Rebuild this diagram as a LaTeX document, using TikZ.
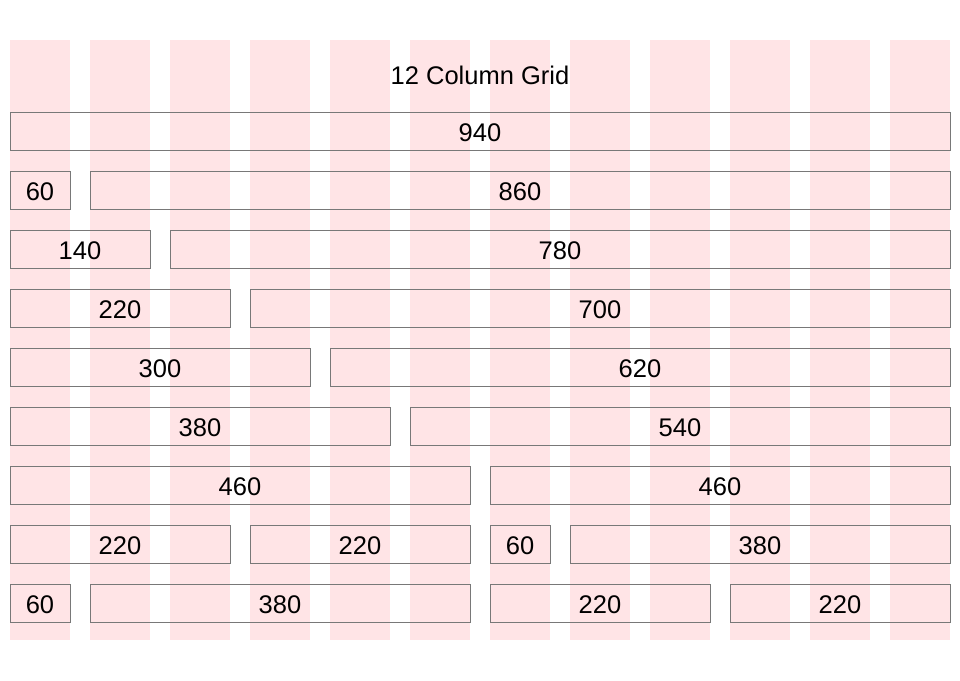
\documentclass[tikz,border=0pt]{standalone}
\usepackage{fontspec}
\setmainfont{Liberation Sans}
\usepackage{tikz}
\usetikzlibrary{positioning}

\definecolor{colpink}{RGB}{255,228,230}
\definecolor{boxgray}{RGB}{120,120,120}

\begin{document}
\begin{tikzpicture}[
        x=1pt, y=-1pt,
        every node/.style={font=\fontsize{25.5}{28}\selectfont},
        column/.style={fill=colpink, draw=none},
        span/.style={rectangle, draw=boxgray, line width=1pt, inner sep=0pt, minimum height=38pt, text height=21pt, text depth=0pt},
        title/.style={font=\fontsize{25.5}{28}\selectfont}
        ]

        % Page size and the twelve background columns
        \useasboundingbox (0,0) rectangle (960,680);
        \foreach \c in {0,...,11}
            \fill[column] ({10+80*\c},40) rectangle ({70+80*\c},640);

        \node[title] (head) at (480,75) {12 Column Grid};

        % One row of spans, centred at their midpoints
        \node[span, minimum width=940pt] (full) at (480,131) {940};

        \node[span, minimum width=60pt] (a60) at (40,190) {60};
        \node[span, minimum width=860pt] (a860) at (520,190) {860};

        \node[span, minimum width=140pt] (b140) at (80,249) {140};
        \node[span, minimum width=780pt] (b780) at (560,249) {780};

        \node[span, minimum width=220pt] (c220) at (120,308) {220};
        \node[span, minimum width=700pt] (c700) at (600,308) {700};

        \node[span, minimum width=300pt] (d300) at (160,367) {300};
        \node[span, minimum width=620pt] (d620) at (640,367) {620};

        \node[span, minimum width=380pt] (e380) at (200,426) {380};
        \node[span, minimum width=540pt] (e540) at (680,426) {540};

        \node[span, minimum width=460pt] (f460) at (240,485) {460};
        \node[span, minimum width=460pt] (g460) at (720,485) {460};

        % Mixed rows
        \node[span, minimum width=220pt] (h220) at (120,544) {220};
        \node[span, minimum width=220pt] (i220) at (360,544) {220};
        \node[span, minimum width=60pt] (h60) at (520,544) {60};
        \node[span, minimum width=380pt] (h380) at (760,544) {380};

        \node[span, minimum width=60pt] (k60) at (40,603) {60};
        \node[span, minimum width=380pt] (k380) at (280,603) {380};
        \node[span, minimum width=220pt] (k220) at (600,603) {220};
        \node[span, minimum width=220pt] (m220) at (840,603) {220};

    \end{tikzpicture}
\end{document}
